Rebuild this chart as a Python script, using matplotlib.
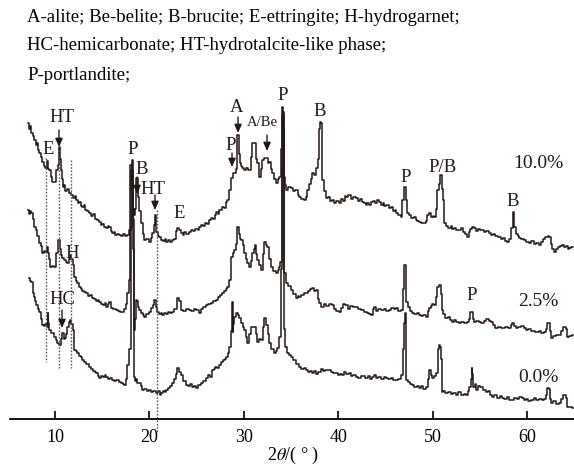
import matplotlib.pyplot as plt

plt.rcParams["font.family"] = ["Liberation Serif", "DejaVu Serif"]
plt.rcParams["mathtext.fontset"] = "stix"

line_color = "#231815"

samples = ["0.0%", "2.5%", "10.0%"]
offsets = [0, 70, 150]

# (2theta in deg, intensity in a.u.), one list per sample
pattern_0 = [
    (7.25, 141), (7.4, 138), (7.56, 137), (7.67, 126), (7.8, 122), (7.95, 118), (8.09, 114),
    (8.25, 110), (8.41, 107), (8.6, 100), (8.73, 94), (8.9, 93), (9.05, 95), (9.15, 92),
    (9.26, 106), (9.35, 96), (9.47, 89), (9.7, 86), (10.0, 82), (10.15, 79), (10.32, 76),
    (10.53, 74), (10.7, 80), (10.85, 86), (10.95, 80), (11.06, 81), (11.2, 85), (11.38, 92),
    (11.55, 97), (11.69, 99), (11.8, 95), (11.91, 89), (12.12, 69), (12.3, 68), (12.44, 66),
    (12.6, 63), (12.8, 62), (12.97, 59), (13.2, 57), (13.4, 55), (13.71, 52), (13.9, 50),
    (14.1, 48), (14.3, 47), (14.45, 46), (14.6, 43), (14.77, 41), (15.0, 43), (15.2, 42),
    (15.35, 44), (15.51, 42), (15.7, 40), (15.9, 41), (16.14, 39), (16.4, 38), (16.6, 39),
    (16.89, 37), (17.1, 36), (17.3, 35), (17.41, 34), (17.6, 40), (17.73, 54), (17.9, 70),
    (18.16, 249), (18.26, 200), (18.37, 42), (18.47, 38), (18.6, 40), (18.79, 36), (19.0, 36),
    (19.15, 33), (19.32, 29), (19.6, 30), (19.8, 28), (20.06, 29), (20.3, 27), (20.5, 28),
    (20.8, 26), (21.0, 28), (21.2, 24), (21.33, 26), (21.5, 28), (21.7, 27), (21.86, 29),
    (22.1, 31), (22.3, 33), (22.5, 36), (22.7, 40), (22.85, 45), (23.03, 51), (23.2, 47),
    (23.45, 44), (23.7, 38), (23.98, 34), (24.2, 33), (24.4, 35), (24.62, 32), (24.8, 33),
    (25.0, 31), (25.2, 34), (25.36, 34), (25.6, 36), (25.8, 38), (26.1, 41), (26.3, 44),
    (26.5, 42), (26.74, 49), (26.9, 50), (27.1, 52), (27.3, 51), (27.48, 54), (27.7, 57),
    (27.9, 59), (28.1, 60), (28.22, 62), (28.4, 66), (28.54, 72), (28.7, 88), (28.75, 117),
    (28.86, 87), (28.95, 95), (29.07, 102), (29.28, 106), (29.45, 104), (29.6, 101), (29.8, 96),
    (30.0, 92), (30.13, 89), (30.3, 82), (30.45, 76), (30.65, 85), (30.87, 92), (31.19, 92),
    (31.35, 85), (31.5, 77), (31.7, 80), (31.93, 79), (32.1, 92), (32.25, 101), (32.46, 94),
    (32.6, 85), (32.77, 76), (33.0, 70), (33.3, 66), (33.45, 68), (33.62, 71), (33.83, 82),
    (34.0, 150), (34.15, 304), (34.26, 250), (34.36, 90), (34.47, 72), (34.68, 66), (34.9, 64),
    (35.1, 62), (35.42, 59), (35.7, 55), (35.95, 52), (36.2, 50), (36.5, 51), (36.69, 49),
    (36.9, 47), (37.1, 48), (37.33, 46), (37.5, 48), (37.7, 45), (38.07, 47), (38.3, 50),
    (38.5, 48), (38.8, 49), (39.13, 49), (39.4, 47), (39.6, 46), (39.87, 46), (40.1, 44),
    (40.3, 45), (40.51, 44), (40.7, 47), (41.0, 45), (41.25, 46), (41.5, 43), (41.7, 44),
    (41.99, 42), (42.3, 41), (42.6, 43), (43.05, 41), (43.3, 43), (43.5, 40), (43.69, 42),
    (43.9, 44), (44.1, 41), (44.43, 42), (44.7, 40), (44.9, 42), (45.17, 41), (45.4, 40),
    (45.7, 41), (46.0, 39), (46.23, 39), (46.5, 40), (46.76, 44), (46.9, 70), (46.97, 96),
    (47.18, 106), (47.29, 39), (47.5, 37), (47.7, 35), (47.92, 34), (48.2, 32), (48.4, 33),
    (48.66, 31), (48.9, 33), (49.1, 30), (49.41, 32), (49.6, 40), (49.72, 49), (49.85, 44),
    (50.04, 41), (50.25, 43), (50.46, 46), (50.6, 70), (50.68, 74), (50.79, 72), (50.89, 60),
    (51.0, 27), (51.2, 28), (51.52, 26), (51.8, 27), (52.0, 25), (52.3, 26), (52.58, 24),
    (52.9, 27), (53.2, 24), (53.4, 25), (53.64, 24), (53.8, 28), (53.96, 32), (54.1, 40),
    (54.17, 51), (54.28, 45), (54.38, 32), (54.5, 35), (54.7, 29), (54.9, 33), (55.23, 32),
    (55.5, 29), (55.76, 27), (56.0, 28), (56.2, 24), (56.4, 22), (56.7, 24), (57.0, 21),
    (57.2, 23), (57.46, 21), (57.7, 20), (58.0, 22), (58.2, 19), (58.52, 19), (58.8, 21),
    (59.0, 20), (59.3, 22), (59.58, 21), (59.8, 19), (60.0, 20), (60.3, 18), (60.63, 19),
    (60.9, 21), (61.1, 19), (61.4, 20), (61.69, 19), (61.9, 20), (62.1, 24), (62.22, 31),
    (62.35, 30), (62.45, 20), (62.65, 16), (62.9, 18), (63.2, 15), (63.49, 16), (63.7, 20),
    (64.02, 24), (64.15, 21), (64.34, 12), (64.6, 12), (64.87, 11),
]

pattern_25 = [
    (7.14, 139), (7.3, 135), (7.45, 138), (7.56, 136), (7.7, 130), (7.88, 122), (8.0, 119),
    (8.2, 113), (8.41, 106), (8.55, 103), (8.73, 96), (8.9, 98), (9.05, 97), (9.15, 102),
    (9.26, 96), (9.4, 90), (9.58, 82), (9.8, 83), (10.0, 82), (10.21, 96), (10.42, 109),
    (10.53, 100), (10.64, 94), (10.85, 91), (11.06, 89), (11.2, 87), (11.38, 86), (11.55, 90),
    (11.69, 94), (11.8, 90), (11.91, 84), (12.12, 72), (12.3, 68), (12.45, 66), (12.65, 62),
    (12.8, 60), (13.0, 58), (13.2, 57), (13.39, 56), (13.6, 53), (13.8, 54), (14.03, 51),
    (14.2, 50), (14.4, 48), (14.6, 49), (14.77, 47), (15.0, 45), (15.2, 44), (15.35, 46),
    (15.51, 42), (15.7, 45), (15.83, 47), (16.04, 41), (16.3, 40), (16.57, 39), (16.8, 38),
    (17.0, 37), (17.2, 37), (17.45, 40), (17.6, 45), (17.73, 56), (17.94, 69), (18.05, 184),
    (18.16, 160), (18.26, 100), (18.37, 19), (18.47, 30), (18.6, 49), (18.69, 48), (18.85, 42),
    (19.0, 39), (19.2, 36), (19.4, 34), (19.53, 32), (19.8, 35), (20.06, 37), (20.25, 41),
    (20.45, 44), (20.59, 49), (20.75, 42), (20.91, 37), (21.1, 35), (21.3, 36), (21.44, 34),
    (21.7, 36), (21.9, 35), (22.1, 37), (22.3, 36), (22.5, 37), (22.8, 40), (23.03, 51),
    (23.2, 48), (23.45, 39), (23.7, 38), (24.0, 40), (24.3, 39), (24.6, 38), (24.8, 40),
    (25.04, 39), (25.36, 36), (25.6, 40), (25.8, 42), (26.1, 44), (26.4, 45), (26.6, 46),
    (26.9, 48), (27.16, 49), (27.4, 52), (27.6, 54), (27.8, 56), (28.0, 58), (28.2, 60),
    (28.32, 62), (28.54, 69), (28.65, 92), (28.75, 92), (28.9, 96), (29.07, 99), (29.2, 105),
    (29.39, 122), (29.5, 115), (29.6, 110), (29.81, 109), (29.95, 104), (30.13, 96), (30.3, 90),
    (30.45, 86), (30.66, 82), (30.8, 88), (30.97, 96), (31.1, 100), (31.19, 104), (31.35, 95),
    (31.5, 89), (31.7, 84), (31.93, 79), (32.1, 95), (32.25, 107), (32.4, 104), (32.56, 102),
    (32.75, 90), (32.99, 82), (33.2, 78), (33.52, 76), (33.7, 79), (33.83, 82), (33.94, 87),
    (34.05, 180), (34.15, 237), (34.26, 150), (34.36, 76), (34.57, 66), (34.8, 63), (35.11, 59),
    (35.4, 55), (35.63, 51), (35.8, 53), (35.95, 52), (36.2, 54), (36.5, 56), (36.69, 56),
    (36.9, 58), (37.1, 60), (37.33, 61), (37.5, 58), (37.75, 59), (37.9, 50), (38.07, 46),
    (38.39, 42), (38.6, 45), (38.9, 43), (39.2, 45), (39.45, 44), (39.7, 40), (39.9, 38),
    (40.19, 37), (40.4, 41), (40.6, 45), (40.93, 44), (41.2, 40), (41.4, 43), (41.7, 42),
    (41.99, 42), (42.3, 40), (42.63, 39), (42.9, 37), (43.2, 36), (43.4, 35), (43.58, 34),
    (43.75, 40), (43.9, 42), (44.1, 38), (44.4, 40), (44.74, 39), (45.0, 40), (45.2, 38),
    (45.49, 39), (45.8, 41), (46.0, 40), (46.23, 41), (46.5, 38), (46.76, 39), (46.87, 60),
    (46.97, 84), (47.08, 84), (47.18, 70), (47.29, 47), (47.5, 42), (47.7, 38), (47.92, 36),
    (48.2, 35), (48.4, 36), (48.66, 34), (48.9, 33), (49.1, 34), (49.41, 32), (49.6, 38),
    (49.72, 41), (49.9, 43), (50.04, 45), (50.25, 44), (50.4, 52), (50.57, 62), (50.79, 64),
    (50.89, 55), (51.0, 39), (51.2, 35), (51.52, 31), (51.7, 32), (51.9, 29), (52.16, 27),
    (52.4, 29), (52.6, 27), (52.9, 26), (53.2, 27), (53.5, 26), (53.75, 27), (53.96, 30),
    (54.07, 37), (54.28, 37), (54.38, 30), (54.49, 27), (54.8, 28), (55.0, 27), (55.34, 26),
    (55.6, 28), (55.8, 30), (56.08, 28), (56.29, 27), (56.5, 24), (56.82, 21), (57.1, 22),
    (57.46, 21), (57.8, 22), (58.2, 21), (58.35, 24), (58.52, 26), (58.7, 23), (58.94, 21),
    (59.2, 22), (59.5, 23), (59.8, 21), (60.0, 19), (60.3, 20), (60.6, 18), (61.06, 17),
    (61.4, 18), (61.6, 16), (61.91, 17), (62.1, 20), (62.22, 26), (62.35, 26), (62.5, 18),
    (62.65, 11), (62.9, 13), (63.2, 14), (63.49, 14), (63.7, 18), (64.02, 22), (64.15, 20),
    (64.34, 12), (64.6, 13), (64.87, 14),
]

pattern_10 = [
    (7.14, 146), (7.3, 140), (7.45, 143), (7.56, 136), (7.7, 133), (7.88, 129), (8.0, 124),
    (8.15, 126), (8.3, 119), (8.41, 116), (8.55, 112), (8.73, 107), (8.9, 103), (9.05, 101),
    (9.15, 108), (9.26, 107), (9.35, 100), (9.47, 99), (9.58, 92), (9.68, 87), (10.0, 87),
    (10.21, 99), (10.32, 104), (10.42, 122), (10.53, 110), (10.64, 99), (10.75, 90), (10.85, 82),
    (11.0, 84), (11.2, 78), (11.4, 80), (11.59, 76), (11.8, 74), (12.0, 71), (12.15, 73),
    (12.33, 69), (12.5, 66), (12.65, 67), (12.8, 63), (12.97, 62), (13.1, 64), (13.3, 59),
    (13.5, 58), (13.71, 56), (13.9, 53), (14.1, 55), (14.3, 50), (14.5, 49), (14.77, 47),
    (14.95, 44), (15.1, 45), (15.3, 42), (15.51, 41), (15.7, 43), (15.83, 42), (16.0, 38),
    (16.14, 36), (16.3, 37), (16.5, 34), (16.7, 35), (16.89, 34), (17.1, 33), (17.3, 35),
    (17.5, 33), (17.73, 34), (17.94, 39), (18.1, 42), (18.16, 109), (18.26, 60), (18.37, 54),
    (18.55, 60), (18.69, 91), (18.79, 72), (19.0, 58), (19.22, 46), (19.4, 35), (19.53, 29),
    (19.8, 30), (20.06, 27), (20.2, 31), (20.38, 36), (20.5, 44), (20.59, 54), (20.7, 45),
    (20.8, 37), (20.95, 33), (21.12, 32), (21.3, 29), (21.5, 28), (21.7, 30), (21.86, 27),
    (22.1, 29), (22.3, 27), (22.5, 29), (22.7, 30), (22.9, 38), (23.03, 41), (23.2, 39),
    (23.45, 36), (23.6, 34), (23.8, 37), (24.0, 35), (24.3, 37), (24.5, 39), (24.7, 38),
    (25.0, 40), (25.2, 39), (25.36, 42), (25.6, 44), (25.8, 43), (26.0, 46), (26.2, 45),
    (26.42, 49), (26.6, 51), (26.8, 50), (27.0, 54), (27.16, 57), (27.3, 55), (27.5, 59),
    (27.8, 62), (28.0, 61), (28.2, 67), (28.32, 69), (28.54, 79), (28.75, 91), (28.86, 96),
    (29.07, 96), (29.2, 100), (29.39, 134), (29.5, 115), (29.6, 106), (29.8, 103), (29.91, 101),
    (30.1, 99), (30.3, 101), (30.5, 99), (30.66, 99), (30.8, 112), (30.97, 126), (31.19, 126),
    (31.35, 110), (31.5, 106), (31.71, 92), (31.85, 100), (32.03, 109), (32.25, 111), (32.46, 111),
    (32.6, 106), (32.77, 107), (32.9, 100), (33.09, 96), (33.3, 90), (33.52, 86), (33.7, 90),
    (33.83, 92), (33.95, 120), (34.05, 162), (34.15, 140), (34.26, 110), (34.36, 92), (34.47, 84),
    (34.57, 79), (34.8, 82), (35.11, 81), (35.3, 78), (35.63, 79), (35.8, 74), (35.95, 72),
    (36.2, 70), (36.48, 69), (36.6, 72), (36.8, 79), (37.0, 85), (37.2, 90), (37.33, 96),
    (37.5, 94), (37.75, 101), (37.9, 110), (38.0, 140), (38.07, 147), (38.28, 146), (38.39, 89),
    (38.6, 78), (38.81, 71), (39.0, 72), (39.2, 68), (39.45, 69), (39.7, 66), (39.9, 68),
    (40.19, 66), (40.4, 70), (40.6, 68), (40.8, 73), (40.93, 72), (41.1, 74), (41.25, 74),
    (41.5, 70), (41.7, 72), (41.99, 71), (42.2, 68), (42.4, 70), (42.63, 67), (42.8, 66),
    (43.0, 64), (43.2, 66), (43.37, 64), (43.6, 67), (43.8, 68), (44.0, 66), (44.2, 69),
    (44.43, 67), (44.6, 64), (44.8, 66), (45.0, 63), (45.2, 64), (45.49, 61), (45.7, 62),
    (45.9, 58), (46.1, 59), (46.23, 56), (46.5, 54), (46.76, 52), (46.86, 69), (47.08, 82),
    (47.29, 69), (47.39, 56), (47.6, 54), (47.92, 51), (48.1, 52), (48.3, 49), (48.5, 48),
    (48.66, 47), (48.9, 46), (49.19, 46), (49.4, 48), (49.5, 54), (49.72, 56), (49.9, 52),
    (50.1, 53), (50.25, 52), (50.4, 60), (50.57, 79), (50.75, 85), (50.89, 94), (51.0, 80),
    (51.1, 69), (51.31, 46), (51.5, 43), (51.84, 41), (52.0, 43), (52.2, 40), (52.4, 41),
    (52.6, 39), (52.9, 39), (53.1, 41), (53.3, 37), (53.5, 35), (53.75, 32), (53.9, 37),
    (54.1, 40), (54.28, 42), (54.5, 41), (54.7, 38), (54.9, 40), (55.1, 39), (55.34, 39),
    (55.6, 37), (55.8, 38), (56.08, 36), (56.3, 34), (56.5, 35), (56.8, 33), (57.14, 32),
    (57.4, 30), (57.6, 31), (57.8, 28), (57.99, 27), (58.2, 30), (58.41, 41), (58.52, 57),
    (58.62, 57), (58.73, 42), (58.9, 35), (59.1, 33), (59.26, 31), (59.5, 30), (59.8, 29),
    (60.05, 27), (60.32, 26), (60.6, 28), (60.9, 25), (61.1, 26), (61.38, 24), (61.6, 27),
    (61.8, 30), (62.1, 32), (62.3, 33), (62.43, 32), (62.6, 25), (62.8, 20), (62.97, 17),
    (63.2, 20), (63.4, 22), (63.6, 23), (63.81, 24), (64.0, 22), (64.2, 23), (64.4, 20),
    (64.55, 21), (64.87, 22),
]

patterns = [pattern_0, pattern_25, pattern_10]

legend_lines = ["A-alite; Be-belite; B-brucite; E-ettringite; H-hydrogarnet;",
                "HC-hemicarbonate; HT-hydrotalcite-like phase;",
                "P-portlandite;"]

# phase labels: (text, 2theta, height)
peak_labels = [("E", 9.26, 269), ("HT", 10.74, 302), ("P", 18.26, 270), ("B", 19.22, 249),
               ("HT", 20.38, 230), ("E", 23.14, 205), ("H", 11.80, 166), ("HC", 10.74, 119),
               ("A", 29.28, 311), ("P", 28.64, 274), ("P", 34.15, 324), ("B", 38.07, 307),
               ("P", 47.18, 242), ("P/B", 51.10, 252), ("B", 58.52, 217), ("P", 54.17, 124)]
# arrows: (2theta, start height, end height)
arrows = [(10.42, 289, 272), (18.69, 242, 225), (20.59, 224, 209), (10.74, 109, 91),
          (29.39, 302, 286), (28.75, 266, 252), (32.46, 284, 268)]
# dotted guide lines: (2theta, top, bottom)
guides = [(9.05, 261, 57), (10.42, 269, 51), (11.69, 259, 51), (20.80, 209, -14)]

fig = plt.figure(figsize=(5.74, 4.65), dpi=100)
ax = fig.add_axes([10 / 574, 46 / 465, 564 / 574, 419 / 465])

for pattern, off in zip(patterns, offsets):
    tth = [p[0] for p in pattern]
    inten = [p[1] + off for p in pattern]
    ax.plot(tth, inten, color=line_color, lw=1.1, drawstyle="steps-mid")

for x, top, bottom in guides:
    ax.plot([x, x], [top, bottom], color="#555555", lw=1.0, ls=(0, (1.2, 1.2)), clip_on=False)

for x, y0, y1 in arrows:
    ax.annotate("", xy=(x, y1), xytext=(x, y0),
                arrowprops=dict(arrowstyle="-|>,head_length=0.5,head_width=0.22",
                                color=line_color, lw=1.0, shrinkA=0, shrinkB=0))

for text, x, y in peak_labels:
    ax.text(x, y, text, ha="center", va="center", fontsize=13.5, color=line_color)
ax.text(31.93, 296, "A/Be", ha="center", va="center", fontsize=10.5, color=line_color)

for name, y in zip(samples, [42, 117, 255]):
    ax.text(61.2, y, name, ha="center", va="center", fontsize=14, color=line_color)

for i, line in enumerate(legend_lines):
    fig.text(27 / 574, 1 - (17 + 29 * i) / 465, line, ha="left", va="center", fontsize=13.5)

ax.set_xlim(5.23, 64.98)
ax.set_ylim(0, 419)
ax.set_xticks([10, 20, 30, 40, 50, 60])
ax.set_yticks([])
for side in ["left", "right", "top"]:
    ax.spines[side].set_visible(False)
ax.spines["bottom"].set_linewidth(1.3)
ax.tick_params(axis="x", direction="in", length=6, width=1.2, labelsize=13, pad=7)
ax.patch.set_alpha(0)
fig.text(293 / 574, 1 - 455 / 465, r"2$\theta$/( ° )", ha="center", va="center", fontsize=13)

fig.savefig("out.png", dpi=100)
